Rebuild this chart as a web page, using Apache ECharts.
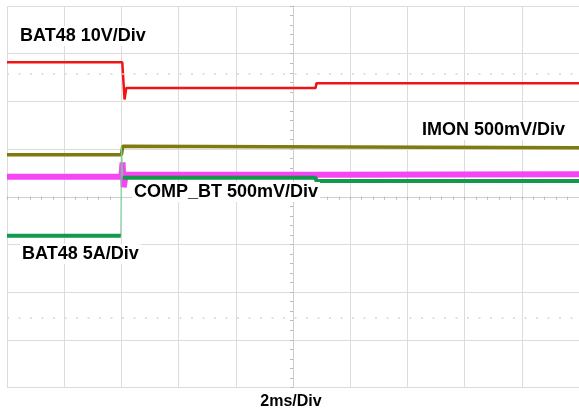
<!DOCTYPE html>
<html>
<head>
<meta charset="utf-8">
<script src="https://cdn.jsdelivr.net/npm/echarts@6/dist/echarts.min.js"></script>
<style>
html,body{margin:0;padding:0;background:#fff;}
#c{width:579px;height:414px;}
</style>
</head>
<body>
<div id="c"></div>
<script>
// time in ms relative to screen centre (2 ms/div), values in divisions relative to centre
const redT = [-10, -5.97, -5.89, -5.83, 0.79, 0.82, 10];
const redV = [2.82, 2.82, 2.04, 2.28, 2.28, 2.38, 2.38];

const oliveT = [-10, -6.0, -5.95, -5.9, 10];
const oliveV = [0.88, 0.88, 1.06, 1.03, 1.03];

const magentaT = [-10, -6.0, -5.96, -5.92, -5.85, 0.8, 0.82, 10];
const magentaV = [0.42, 0.42, 0.72, 0.2, 0.46, 0.46, 0.47, 0.47];

const greenT = [-10, -6.02, -6.0, -5.95, 0.79, 0.82, 10];
const greenV = [-0.82, -0.82, '-', 0.40, 0.40, 0.33, 0.33];

const greenEdgeT = [-6.02, -6.0, -5.95];
const greenEdgeV = [-0.82, 1.05, 0.40];

const refLevels = [2.57, -2.54];

const labels = ['BAT48 10V/Div', 'IMON 500mV/Div', 'COMP_BT 500mV/Div', 'BAT48 5A/Div'];
const xTitle = '2ms/Div';

function zip(t, v) { return t.map((x, i) => [x, v[i]]); }

const chart = echarts.init(document.getElementById('c'), null, {renderer: 'canvas'});
const FONT = '"Liberation Sans", Arial, sans-serif';
const gridColor = '#dcdcdc';

function lbl(text, x, y, align, size) {
  return {
    type: 'text', left: undefined, x: x, y: y, z: 100,
    style: {
      text: text, fill: '#000', font: 'bold ' + size + 'px ' + FONT,
      textAlign: align, textVerticalAlign: 'middle',
      backgroundColor: '#fff', padding: [1, 2]
    }
  };
}

chart.setOption({
  animation: false,
  backgroundColor: '#fff',
  grid: {left: 7, top: 6, width: 577, height: 381.5},
  xAxis: {
    type: 'value', min: -10, max: 10, interval: 2,
    axisLine: {show: true, onZero: true, lineStyle: {color: '#cfcfcf', width: 1}},
    axisTick: {show: true, length: 3, lineStyle: {color: '#bbbbbb'}},
    minorTick: {show: true, splitNumber: 5, length: 3, lineStyle: {color: '#bbbbbb'}},
    axisLabel: {show: false},
    splitLine: {show: true, lineStyle: {color: gridColor, width: 1}}
  },
  yAxis: {
    type: 'value', min: -4, max: 4, interval: 1,
    axisLine: {show: true, onZero: true, lineStyle: {color: '#cfcfcf', width: 1}},
    axisTick: {show: true, length: 3, lineStyle: {color: '#bbbbbb'}},
    minorTick: {show: true, splitNumber: 5, length: 3, lineStyle: {color: '#bbbbbb'}},
    axisLabel: {show: false},
    splitLine: {show: true, lineStyle: {color: gridColor, width: 1}}
  },
  series: [
    {
      type: 'line', data: zip(redT, redV), showSymbol: false, symbol: 'none',
      lineStyle: {color: '#f01414', width: 2.5}, z: 3,
      markLine: {
        silent: true, symbol: 'none', label: {show: false},
        lineStyle: {color: '#d6d6d6', width: 1.5, type: [2, 9.5]},
        data: refLevels.map(v => ({yAxis: v}))
      }
    },
    {
      type: 'line', data: zip(oliveT, oliveV), showSymbol: false, symbol: 'none',
      lineStyle: {color: '#7f7b0e', width: 3.5}, z: 4
    },
    {
      type: 'line', data: zip(magentaT, magentaV), showSymbol: false, symbol: 'none',
      lineStyle: {color: '#f545f5', width: 6}, z: 5
    },
    {
      type: 'line', data: zip(greenEdgeT, greenEdgeV), showSymbol: false, symbol: 'none',
      lineStyle: {color: '#6fcf8f', width: 1}, z: 6
    },
    {
      type: 'line', data: zip(greenT, greenV), showSymbol: false, symbol: 'none',
      connectNulls: false,
      lineStyle: {color: '#13994a', width: 4}, z: 7
    }
  ],
  graphic: [
    lbl(labels[0], 18, 36, 'left', 18),
    lbl(labels[1], 420, 130, 'left', 18),
    lbl(labels[2], 132, 192, 'left', 18),
    lbl(labels[3], 20, 254, 'left', 18),
    {
      type: 'text', x: 291, y: 402, z: 100,
      style: {text: xTitle, fill: '#000', font: 'bold 16px ' + FONT, textAlign: 'center', textVerticalAlign: 'middle'}
    }
  ]
});
</script>
</body>
</html>
